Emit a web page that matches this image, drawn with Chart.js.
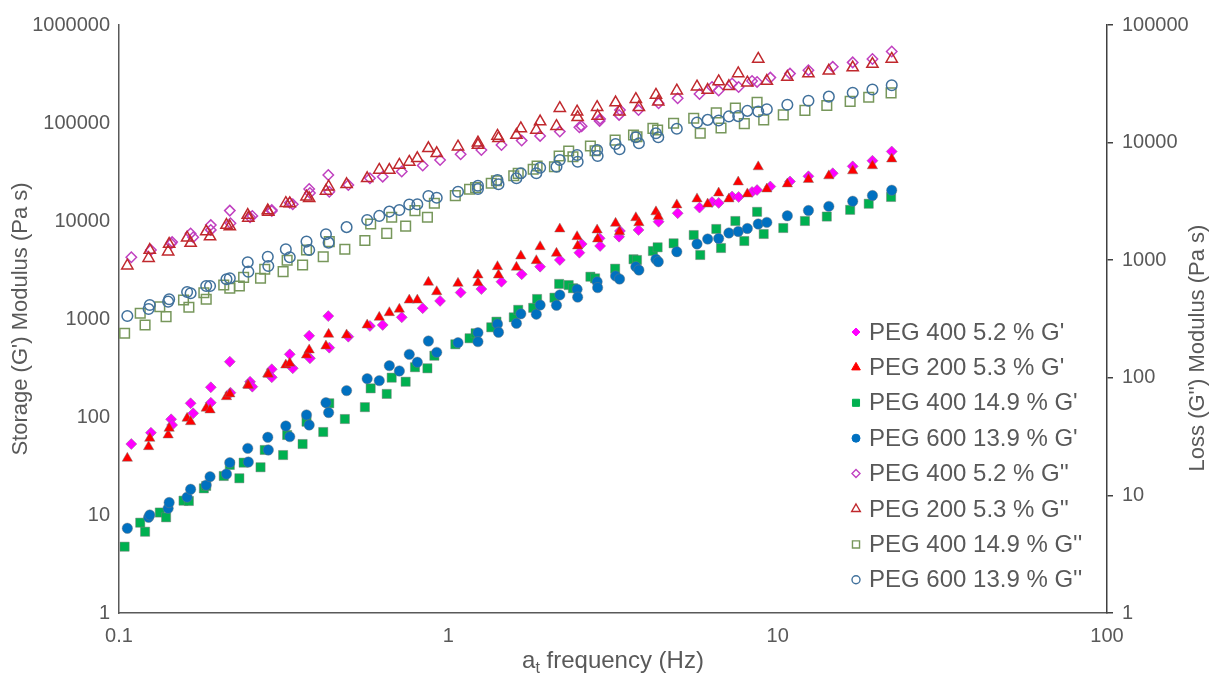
<!DOCTYPE html>
<html>
<head>
<meta charset="utf-8">
<script src="https://cdn.jsdelivr.net/npm/chart.js@4.4.1/dist/chart.umd.min.js"></script>
<style>
  html, body { margin: 0; padding: 0; background: #fff; }
  #wrap { width: 1215px; height: 673px; }
</style>
</head>
<body>
<div id="wrap"><canvas id="grafico" width="1215" height="673"></canvas></div>
<script>
// frequencias (Hz, ja deslocadas por a_t) - PEG 200 5.3 % e PEG 600 13.9 %
const freqA = [0.106, 0.123, 0.124, 0.141, 0.142, 0.161, 0.165, 0.184, 0.189, 0.212,
  0.217, 0.246, 0.247, 0.283, 0.284, 0.321, 0.330, 0.371, 0.378, 0.425,
  0.433, 0.491, 0.567, 0.617, 0.662, 0.710, 0.761, 0.805, 0.870, 0.922,
  1.07, 1.23, 1.23, 1.41, 1.42, 1.61, 1.66, 1.85, 1.90, 2.13,
  2.18, 2.46, 2.47, 2.83, 2.84, 3.22, 3.31, 3.71, 3.79, 4.27,
  4.34, 4.94, 5.69, 6.13, 6.62, 7.11, 7.59, 8.09, 8.73, 9.27,
  10.7, 12.4, 14.3, 16.9, 19.4, 22.2];

// PEG 400 5.2 %
const freqB = [0.109, 0.125, 0.144, 0.145, 0.165, 0.168, 0.190, 0.190, 0.217, 0.218,
  0.250, 0.254, 0.291, 0.291, 0.330, 0.337, 0.378, 0.380, 0.432, 0.435,
  0.497, 0.578, 0.632, 0.722, 0.836, 0.944, 1.09, 1.26, 1.45, 1.67,
  1.90, 2.18, 2.50, 2.54, 2.88, 2.89, 3.30, 3.32, 3.78, 4.35,
  4.97, 5.79, 6.32, 6.62, 7.27, 7.61, 8.36, 8.66, 9.50, 10.9,
  12.4, 14.7, 16.9, 19.4, 22.2];

// PEG 400 14.9 %
const freqC = [0.104, 0.116, 0.120, 0.133, 0.139, 0.157, 0.163, 0.181, 0.184, 0.208,
  0.217, 0.232, 0.239, 0.269, 0.277, 0.315, 0.324, 0.361, 0.371, 0.417,
  0.435, 0.485, 0.558, 0.581, 0.650, 0.673, 0.742, 0.792, 0.864, 0.907,
  1.05, 1.16, 1.21, 1.35, 1.40, 1.58, 1.63, 1.81, 1.86, 2.10,
  2.17, 2.32, 2.39, 2.70, 2.79, 3.21, 3.65, 3.74, 4.18, 4.32,
  4.83, 5.56, 5.82, 6.51, 6.73, 7.44, 7.92, 8.66, 9.07, 10.4,
  12.1, 14.1, 16.6, 18.9, 22.1];

// G' (eixo esquerdo)
const peg400lowStorage = [53.0, 69.2, 94.7, 82.9, 138, 109, 201, 140, 367, 177,
  229, 204, 307, 254, 436, 314, 675, 397, 1070, 510,
  660, 848, 869, 1040, 1290, 1530, 1860, 2020, 2400, 2860,
  3420, 4000, 4750, 5830, 6660, 5560, 6920, 7910, 8100, 9840,
  12000, 13700, 15600, 15300, 17800, 17600, 19800, 20700, 22500, 25300,
  28600, 30700, 36100, 41200, 51200];

const peg200Storage = [37.9, 49.8, 60.6, 65.5, 76.7, 97.0, 89.5, 123, 118, 161,
  172, 212, 210, 275, 273, 339, 353, 429, 483, 530,
  698, 687, 869, 1040, 1160, 1260, 1560, 1560, 2370, 1900,
  2310, 2810, 2350, 3420, 2810, 3370, 4400, 3940, 5470, 4680,
  8290, 6920, 5560, 8100, 6550, 9470, 7780, 10800, 9610, 12400,
  11100, 14600, 16800, 14900, 19300, 16800, 25000, 18900, 35700, 21200,
  23900, 26500, 28900, 32500, 36600, 42900];

const peg400highStorage = [4.75, 8.35, 6.75, 10.6, 9.47, 14.0, 13.9, 18.7, 19.8, 25.0,
  32.4, 23.7, 34.2, 30.7, 46.1, 40.9, 65.5, 53.0, 89.5, 70.3,
  138, 95.4, 126, 196, 172, 252, 229, 322, 314, 422,
  552, 636, 715, 823, 939, 1040, 1240, 1300, 1600, 1650,
  2280, 2220, 2060, 2700, 2600, 3260, 4070, 4000, 4940, 5390,
  5920, 7190, 4500, 8290, 5300, 10000, 6250, 12400, 7370, 8480,
  10000, 11100, 13000, 15000, 17600];

const peg600Storage = [7.32, 9.47, 10.0, 11.7, 13.4, 15.2, 18.3, 20.2, 24.6, 26.2,
  34.2, 47.9, 34.7, 62.1, 46.1, 80.9, 63.0, 105, 82.9, 140,
  111, 186, 246, 235, 334, 295, 436, 362, 596, 457,
  573, 725, 587, 889, 732, 904, 1130, 1120, 1390, 1380,
  1760, 2010, 1670, 2400, 2090, 2750, 2560, 3420, 3160, 4070,
  3840, 4860, 5830, 6550, 6630, 7550, 7820, 8390, 9320, 9680,
  11300, 12800, 14100, 15900, 18200, 20600];

// G'' (eixo direito)
const peg400lowLoss = [1060, 1220, 1390, 1430, 1690, 1570, 1990, 1810, 2640, 2060,
  2320, 2380, 2670, 2620, 3080, 2990, 4030, 3730, 5300, 3820,
  4360, 4970, 5130, 5680, 6390, 7110, 7950, 8650, 9540, 10400,
  11400, 12400, 13500, 13800, 15300, 15900, 17200, 18900, 18900, 21600,
  23800, 25900, 29700, 27700, 31800, 29700, 33400, 32800, 35700, 38600,
  41300, 44100, 48100, 51400, 59500];

const peg200Loss = [898, 1040, 1220, 1180, 1370, 1550, 1400, 1750, 1590, 1990,
  1930, 2420, 2290, 2640, 2570, 3050, 3040, 3470, 3360, 3880,
  4220, 4420, 4970, 5850, 5840, 6450, 6840, 7350, 8940, 8110,
  9230, 9980, 9540, 11400, 10900, 11600, 13200, 12800, 15100, 13800,
  19600, 18300, 16400, 20000, 16800, 21900, 18300, 23400, 20000, 25400,
  22300, 27600, 29900, 28000, 33100, 30100, 38700, 32300, 51400, 33400,
  36100, 38600, 40800, 43500, 46500, 51400];

const peg400highLoss = [239, 354, 281, 402, 331, 459, 398, 529, 465, 615,
  577, 604, 715, 702, 837, 799, 1000, 910, 1220, 1070,
  1440, 1240, 1470, 2030, 1690, 2320, 1950, 2640, 2320, 3050,
  3540, 4010, 4140, 4510, 4740, 5230, 5480, 5930, 6320, 6240,
  7690, 8480, 7590, 9360, 8530, 10500, 11600, 11200, 13200, 12800,
  14600, 16100, 12000, 17900, 13300, 19700, 14500, 22000, 15600, 17200,
  18800, 20700, 22400, 24300, 26500];

const peg600Loss = [335, 385, 416, 444, 465, 537, 523, 604, 603, 688,
  702, 960, 799, 1070, 893, 1240, 1060, 1440, 1220, 1660,
  1410, 1910, 2200, 2380, 2590, 2670, 2980, 2990, 3520, 3400,
  3820, 4300, 4030, 4810, 4420, 4970, 5480, 5480, 6120, 6240,
  7110, 7850, 6880, 8650, 7690, 9730, 8770, 11100, 9860, 12000,
  11100, 13100, 14800, 15600, 15400, 16700, 16800, 18600, 18400, 19200,
  21000, 22700, 24600, 26500, 28300, 30700];

const ticksX = [0.1, 1, 10, 100];
const ticksEsquerda = [1, 10, 100, 1000, 10000, 100000, 1000000];
const ticksDireita = [1, 10, 100, 1000, 10000, 100000];

const FONTE = '"Liberation Sans", Arial, sans-serif';
const CINZA = "#595959";

const series = [
  { rotulo: "PEG 400 5.2 % G'", freq: freqB, valores: peg400lowStorage, eixo: "y", estilo: "rectRot", cor: "#ff00ff", cheio: true, raio: 5.5, raioLegenda: 4 },
  { rotulo: "PEG 200 5.3 % G'", freq: freqA, valores: peg200Storage, eixo: "y", estilo: "triangle", cor: "#ff0000", cheio: true, raio: 6, raioLegenda: 5 },
  { rotulo: "PEG 400 14.9 % G'", freq: freqC, valores: peg400highStorage, eixo: "y", estilo: "rect", cor: "#00b050", cheio: true, raio: 6.5, raioLegenda: 5 },
  { rotulo: "PEG 600 13.9 % G'", freq: freqA, valores: peg600Storage, eixo: "y", estilo: "circle", cor: "#0070c0", cheio: true, raio: 5.2, raioLegenda: 4 },
  { rotulo: "PEG 400 5.2 % G''", freq: freqB, valores: peg400lowLoss, eixo: "y2", estilo: "rectRot", cor: "#c040c0", cheio: false, raio: 5.2, raioLegenda: 4 },
  { rotulo: "PEG 200 5.3 % G''", freq: freqA, valores: peg200Loss, eixo: "y2", estilo: "triangle", cor: "#c0282d", cheio: false, raio: 6.5, raioLegenda: 5 },
  { rotulo: "PEG 400 14.9 % G''", freq: freqC, valores: peg400highLoss, eixo: "y2", estilo: "rect", cor: "#77975b", cheio: false, raio: 6.8, raioLegenda: 5 },
  { rotulo: "PEG 600 13.9 % G''", freq: freqA, valores: peg600Loss, eixo: "y2", estilo: "circle", cor: "#41719c", cheio: false, raio: 5.3, raioLegenda: 4 },
];

function pontos(freq, valores) {
  return freq.map((f, i) => ({ x: f, y: valores[i] }));
}

function desenharMarcador(ctx, estilo, x, y, r, cor, cheio) {
  ctx.beginPath();
  if (estilo === "circle") {
    ctx.arc(x, y, r, 0, Math.PI * 2);
  } else if (estilo === "rect") {
    const l = r * Math.SQRT1_2;
    ctx.rect(x - l, y - l, 2 * l, 2 * l);
  } else if (estilo === "rectRot") {
    ctx.moveTo(x, y - r);
    ctx.lineTo(x + r, y);
    ctx.lineTo(x, y + r);
    ctx.lineTo(x - r, y);
    ctx.closePath();
  } else {
    ctx.moveTo(x, y - r);
    ctx.lineTo(x + r * 0.866, y + r * 0.5);
    ctx.lineTo(x - r * 0.866, y + r * 0.5);
    ctx.closePath();
  }
  if (cheio) {
    ctx.fillStyle = cor;
    ctx.fill();
  }
  ctx.strokeStyle = cor;
  ctx.lineWidth = cheio ? 1 : 1.4;
  ctx.stroke();
}

// titulos e legenda desenhados a mao
const extras = {
  id: "extras",
  afterDraw(chart) {
    const ctx = chart.ctx;
    const area = chart.chartArea;
    ctx.save();
    ctx.fillStyle = CINZA;
    ctx.textAlign = "center";
    ctx.textBaseline = "middle";
    ctx.font = `22px ${FONTE}`;

    ctx.save();
    ctx.translate(21, (area.top + area.bottom) / 2);
    ctx.rotate(-Math.PI / 2);
    ctx.fillText("Storage (G') Modulus (Pa s)", 0, 0);
    ctx.restore();

    ctx.save();
    ctx.translate(1198, 348);
    ctx.rotate(-Math.PI / 2);
    ctx.fillText("Loss (G'') Modulus (Pa s)", 0, 0);
    ctx.restore();

    // a_t frequency (Hz)
    const grande = `24px ${FONTE}`;
    const pequeno = `16px ${FONTE}`;
    ctx.font = grande;
    const wA = ctx.measureText("a").width;
    const resto = " frequency (Hz)";
    const wR = ctx.measureText(resto).width;
    ctx.font = pequeno;
    const wT = ctx.measureText("t").width;
    let x = (area.left + area.right) / 2 - (wA + wT + wR) / 2;
    const base = 668;
    ctx.textAlign = "left";
    ctx.textBaseline = "alphabetic";
    ctx.font = grande;
    ctx.fillText("a", x, base);
    x += wA;
    ctx.font = pequeno;
    ctx.fillText("t", x, base + 5);
    x += wT;
    ctx.font = grande;
    ctx.fillText(resto, x, base);

    // legenda
    ctx.font = `24px ${FONTE}`;
    ctx.textBaseline = "middle";
    series.forEach((s, i) => {
      const y = 332 + i * 35.4;
      desenharMarcador(ctx, s.estilo, 856, y, s.raioLegenda, s.cor, s.cheio);
      ctx.fillStyle = CINZA;
      ctx.fillText(s.rotulo, 869, y + 1);
    });
    ctx.restore();
  },
};

const fonteTicks = { family: FONTE, size: 20 };

new Chart(document.getElementById("grafico"), {
  type: "scatter",
  data: {
    datasets: series.map((s, i) => ({
      label: s.rotulo,
      data: pontos(s.freq, s.valores),
      yAxisID: s.eixo,
      pointStyle: s.estilo,
      pointRadius: s.raio,
      pointHoverRadius: s.raio,
      backgroundColor: s.cheio ? s.cor : "rgba(0,0,0,0)",
      borderColor: s.cheio ? "rgba(120,120,120,0.45)" : s.cor,
      borderWidth: s.cheio ? 1 : 1.5,
      order: series.length - i,
    })),
  },
  options: {
    responsive: false,
    animation: false,
    devicePixelRatio: 1,
    layout: { padding: { top: 25, left: 0, right: 0, bottom: 0 } },
    plugins: {
      legend: { display: false },
      tooltip: { enabled: false },
    },
    scales: {
      x: {
        type: "logarithmic",
        position: "bottom",
        min: 0.1,
        max: 100,
        afterBuildTicks: (s) => { s.ticks = ticksX.map((v) => ({ value: v })); },
        afterFit: (s) => { s.height = 60; },
        grid: { display: false, drawTicks: false },
        border: { display: true, color: "#595959", width: 1.5 },
        ticks: { color: CINZA, font: fonteTicks, padding: 11, autoSkip: false, maxRotation: 0, callback: (v) => String(v) },
      },
      y: {
        type: "logarithmic",
        position: "left",
        min: 1,
        max: 1000000,
        afterBuildTicks: (s) => { s.ticks = ticksEsquerda.map((v) => ({ value: v })); },
        afterFit: (s) => { s.width = 119; },
        grid: { display: false, drawTicks: false },
        border: { display: true, color: "#595959", width: 1.5 },
        ticks: { color: CINZA, font: fonteTicks, padding: 9, autoSkip: false, callback: (v) => String(v) },
      },
      y2: {
        type: "logarithmic",
        position: "right",
        min: 1,
        max: 100000,
        afterBuildTicks: (s) => { s.ticks = ticksDireita.map((v) => ({ value: v })); },
        afterFit: (s) => { s.width = 108; },
        grid: { display: true, drawOnChartArea: false, drawTicks: true, tickLength: 6, color: "#404040", lineWidth: 1.5 },
        border: { display: true, color: "#404040", width: 1.5 },
        ticks: { color: CINZA, font: fonteTicks, padding: 9, autoSkip: false, callback: (v) => String(v) },
      },
    },
  },
  plugins: [extras],
});
</script>
</body>
</html>
